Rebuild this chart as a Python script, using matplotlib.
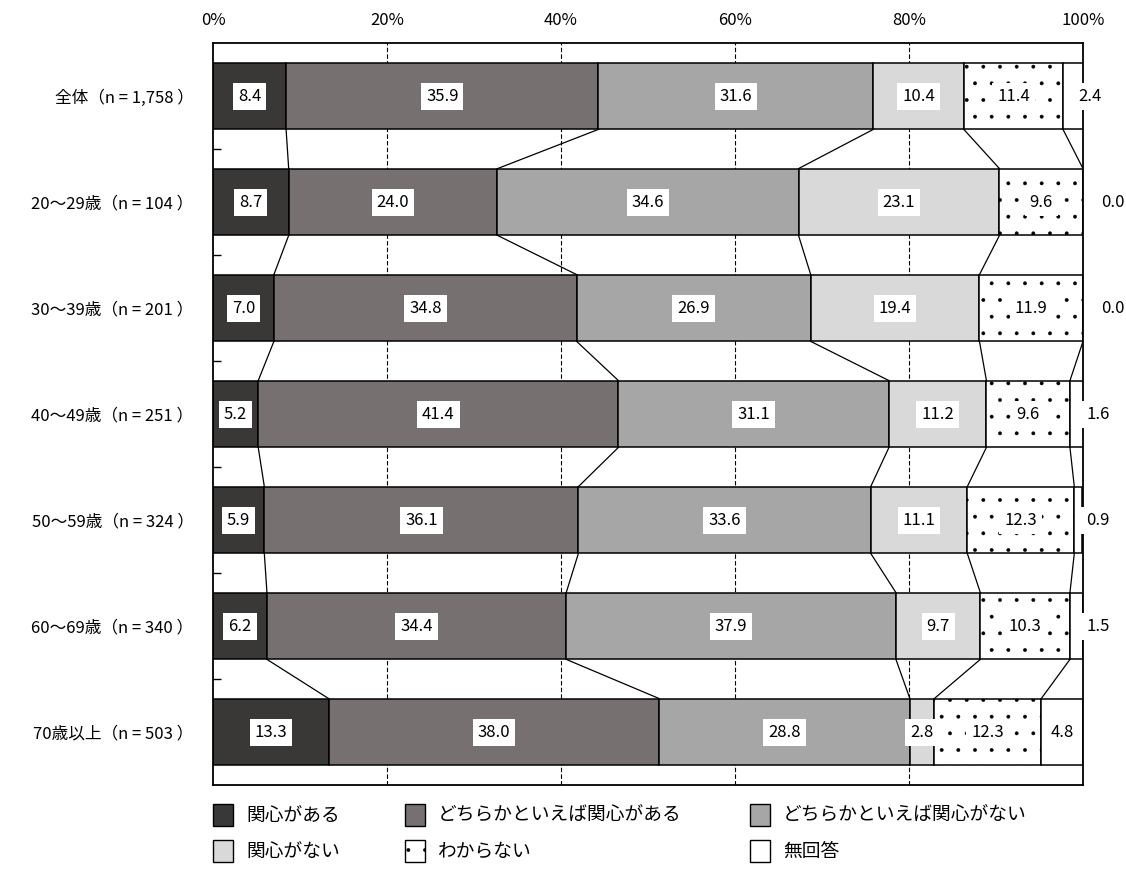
import numpy as np
import matplotlib
matplotlib.use("Agg")
import matplotlib.pyplot as plt
from matplotlib.patches import Rectangle

plt.rcParams["font.family"] = ["Noto Sans CJK JP", "DejaVu Sans"]
plt.rcParams["hatch.linewidth"] = 0.3
plt.rcParams["hatch.color"] = "#555555"

# =========================
# data
# =========================
groups = [
    "全体（n = 1,758 ）",
    "20～29歳（n = 104 ）",
    "30～39歳（n = 201 ）",
    "40～49歳（n = 251 ）",
    "50～59歳（n = 324 ）",
    "60～69歳（n = 340 ）",
    "70歳以上（n = 503 ）",
]
categories = [
    "関心がある",
    "どちらかといえば関心がある",
    "どちらかといえば関心がない",
    "関心がない",
    "わからない",
    "無回答",
]
very_interested = [8.4, 8.7, 7.0, 5.2, 5.9, 6.2, 13.3]
somewhat_interested = [35.9, 24.0, 34.8, 41.4, 36.1, 34.4, 38.0]
somewhat_not = [31.6, 34.6, 26.9, 31.1, 33.6, 37.9, 28.8]
not_interested = [10.4, 23.1, 19.4, 11.2, 11.1, 9.7, 2.8]
dont_know = [11.4, 9.6, 11.9, 9.6, 12.3, 10.3, 12.3]
no_answer = [2.4, 0.0, 0.0, 1.6, 0.9, 1.5, 4.8]
x_ticks = [0, 20, 40, 60, 80, 100]

# =========================
# styles
# =========================
COLORS = ["#3a3837", "#767170", "#a6a6a6", "#d9d9d9", "white", "white"]
HATCHES = [None, None, None, None, ".", None]
BAR_H = 0.63
FS = 12

series = np.array([very_interested, somewhat_interested, somewhat_not,
                   not_interested, dont_know, no_answer])
n_rows = len(groups)
y = np.arange(n_rows)

fig = plt.figure(figsize=(11.26, 8.94), dpi=100)
ax = fig.add_axes([213 / 1126, 1 - 785 / 894, 870 / 1126, 742 / 894])

left = np.zeros(n_rows)
for k in range(len(categories)):
    ax.barh(y, series[k], left=left, height=BAR_H, color=COLORS[k],
            edgecolor="black", linewidth=1.1, hatch=HATCHES[k], zorder=2)
    for i in range(n_rows):
        v = series[k, i]
        cx = left[i] + v / 2
        if k == len(categories) - 1 and v < 3:
            # small "no answer" values sit just right of the bar
            if v == 0:
                cx = 103.4
            elif v < 2:
                cx = 101.7
            else:
                cx = 100.8
        ax.text(cx, i, f"{v:.1f}", ha="center", va="center", fontsize=FS,
                zorder=6, clip_on=False,
                bbox=dict(boxstyle="square,pad=0.3", facecolor="white",
                          edgecolor="none"))
    left = left + series[k]

# connecting lines between stacked bars
cum = np.cumsum(series, axis=0)
for i in range(n_rows - 1):
    for k in range(len(categories) - 1):
        ax.plot([cum[k, i], cum[k, i + 1]],
                [i + BAR_H / 2, i + 1 - BAR_H / 2],
                color="black", linewidth=0.9, zorder=1)

ax.set_xlim(0, 100)
ax.set_ylim(n_rows - 0.5, -0.5)

ax.set_xticks(x_ticks)
ax.set_xticklabels([f"{t}%" for t in x_ticks], fontsize=FS)
ax.xaxis.tick_top()
ax.tick_params(axis="x", length=0, pad=10)
for t in x_ticks[1:-1]:
    ax.axvline(t, color="black", linestyle=(0, (4, 2)), linewidth=0.8, zorder=0)

ax.set_yticks(y)
ax.set_yticklabels(groups, fontsize=FS)
ax.tick_params(axis="y", which="major", length=0, pad=14)
ax.set_yticks(np.arange(0.5, n_rows - 1, 1), minor=True)
ax.tick_params(axis="y", which="minor", direction="in", length=6, width=1)

for s in ax.spines.values():
    s.set_linewidth(1.3)
    s.set_zorder(4)

# legend, laid out by hand in figure pixels
W, H = 1126, 894
legend_cols = [213, 405, 750]
legend_rows = [815, 851]
for idx, name in enumerate(categories):
    r, c = divmod(idx, 3)
    hx = legend_cols[c]
    hy = legend_rows[r]
    fig.add_artist(Rectangle((hx / W, 1 - (hy + 11) / H), 20 / W, 22 / H,
                             transform=fig.transFigure, facecolor=COLORS[idx],
                             edgecolor="black", linewidth=1.0,
                             hatch=HATCHES[idx]))
    fig.text((hx + 33) / W, 1 - hy / H, name, fontsize=13.5,
             ha="left", va="center")

fig.savefig("out.png", dpi=100)
